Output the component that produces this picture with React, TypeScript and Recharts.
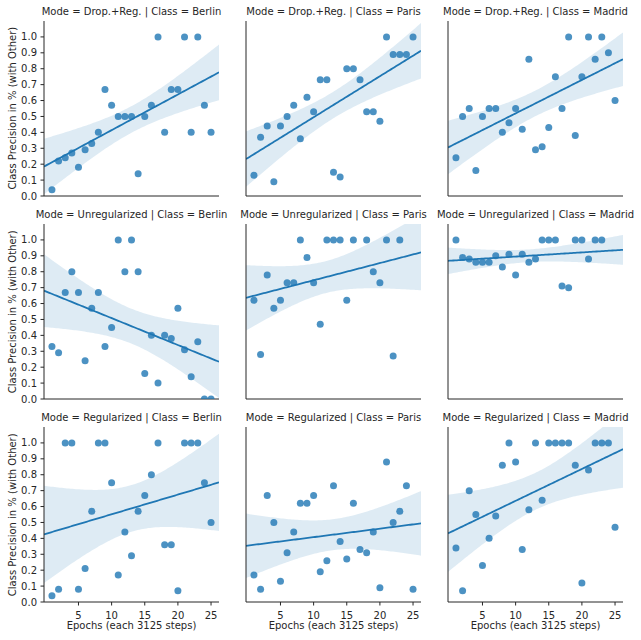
import React from 'react';
import { ComposedChart, Scatter, Line, Area, XAxis, YAxis } from 'recharts';

const EPOCHS = [1, 2, 3, 4, 5, 6, 7, 8, 9, 10, 11, 12, 13, 14, 15, 16, 17, 18, 19, 20, 21, 22, 23, 24, 25];
const MODES = ['Drop.+Reg.', 'Unregularized', 'Regularized'];
const CLASSES = ['Berlin', 'Paris', 'Madrid'];
const X_TICKS = [5, 10, 15, 20, 25];
const Y_TICKS = [0, 0.1, 0.2, 0.3, 0.4, 0.5, 0.6, 0.7, 0.8, 0.9, 1.0];

const dropRegBerlin = [0.04, 0.22, 0.24, 0.27, 0.18, 0.29, 0.33, 0.40, 0.67, 0.57, 0.50, 0.50, 0.50, 0.14, 0.50, 0.57, 1.0, 0.40, 0.67, 0.67, 1.0, 0.40, 1.0, 0.57, 0.40];
const dropRegParis = [0.13, 0.37, 0.44, 0.09, 0.44, 0.50, 0.57, 0.36, 0.62, 0.53, 0.73, 0.73, 0.15, 0.12, 0.80, 0.80, 0.73, 0.53, 0.53, 0.47, 1.0, 0.89, 0.89, 0.89, 1.0];
const dropRegMadrid = [0.24, 0.50, 0.55, 0.16, 0.50, 0.55, 0.55, 0.40, 0.46, 0.55, 0.42, 0.86, 0.29, 0.31, 0.43, 0.75, 0.55, 1.0, 0.38, 0.75, 1.0, 0.86, 1.0, 0.90, 0.60];
const unregBerlin = [0.33, 0.29, 0.67, 0.80, 0.67, 0.24, 0.57, 0.67, 0.33, 0.45, 1.0, 0.80, 1.0, 0.80, 0.16, 0.40, 0.10, 0.40, 0.38, 0.57, 0.31, 0.14, 0.36, 0.0, 0.0];
const unregParis = [0.62, 0.28, 0.78, 0.57, 0.62, 0.73, 0.73, 1.0, 0.89, 0.73, 0.47, 1.0, 1.0, 1.0, 0.62, 1.0, null, 1.0, 0.80, 0.73, 1.0, 0.27, 1.0, null, null];
const unregMadrid = [1.0, 0.89, 0.88, 0.86, 0.86, 0.86, 0.90, 0.83, 0.91, 0.78, 0.91, 0.86, 0.88, 1.0, 1.0, 1.0, 0.71, 0.70, 1.0, 1.0, 0.88, 1.0, 1.0, null, null];
const regBerlin = [0.04, 0.08, 1.0, 1.0, 0.08, 0.21, 0.57, 1.0, 1.0, 0.75, 0.17, 0.44, 0.29, 0.57, 0.67, 0.80, 1.0, 0.36, 0.36, 0.07, 1.0, 1.0, 1.0, 0.75, 0.50];
const regParis = [0.17, 0.08, 0.67, 0.50, 0.13, 0.31, 0.44, 0.62, 0.62, 0.67, 0.19, 0.26, 0.73, 0.38, 0.27, 0.62, 0.33, 0.31, 0.44, 0.09, 0.88, 0.50, 0.57, 0.73, 0.08];
const regMadrid = [0.34, 0.07, 0.70, 0.55, 0.23, 0.40, 0.54, 0.86, 1.0, 0.88, 0.33, 0.58, 1.0, 0.64, 1.0, 1.0, 1.0, 1.0, 0.86, 0.12, 0.83, 1.0, 1.0, 1.0, 0.47];

const SERIES: (number | null)[][][] = [
  [dropRegBerlin, dropRegParis, dropRegMadrid],
  [unregBerlin, unregParis, unregMadrid],
  [regBerlin, regParis, regMadrid],
];

const X_MIN = -0.2;
const X_MAX = 26.2;
const COL_LEFT = [44, 246, 448];
const ROW_TOP = [20.7, 224.3, 427.3];
const PW = 175;
const PH = 175;
const ML = 44;
const MT = 20;
const MR = 8;
const XH = 30;
const BLUE = '#1f77b4';
const INK = '#262626';
const FONT = 'DejaVu Sans';

function regression(pts: { x: number; y: number }[]) {
  const n = pts.length;
  const mx = pts.reduce((s, p) => s + p.x, 0) / n;
  const my = pts.reduce((s, p) => s + p.y, 0) / n;
  let sxx = 0;
  let sxy = 0;
  pts.forEach((p) => {
    sxx += (p.x - mx) * (p.x - mx);
    sxy += (p.x - mx) * (p.y - my);
  });
  const b = sxy / sxx;
  const a = my - b * mx;
  let sse = 0;
  pts.forEach((p) => {
    const r = p.y - (a + b * p.x);
    sse += r * r;
  });
  const df = n - 2;
  const s = Math.sqrt(sse / df);
  const z = 1.959964;
  const t = z + (z ** 3 + z) / (4 * df) + (5 * z ** 5 + 16 * z ** 3 + 3 * z) / (96 * df * df);
  const grid = [];
  for (let i = 0; i < 100; i++) {
    const x = X_MIN + ((X_MAX - X_MIN) * i) / 99;
    const yh = a + b * x;
    const se = s * Math.sqrt(1 / n + ((x - mx) * (x - mx)) / sxx);
    grid.push({ x, y: yh, band: [yh - t * se, yh + t * se] });
  }
  return grid;
}

const Dot = (props: any) => {
  const { cx, cy } = props;
  if (cx == null || cy == null) return null;
  return <circle cx={cx} cy={cy} r={3.5} fill={BLUE} fillOpacity={0.8} stroke="none" />;
};

function Panel({ row, col }: { row: number; col: number }) {
  const vals = SERIES[row][col];
  const pts = EPOCHS.map((x, i) => ({ x, y: vals[i] as number })).filter((p, i) => vals[i] !== null);
  const grid = regression(pts);
  const tickStyle = { fontSize: 10, fill: INK, fontFamily: FONT };
  return (
    <div style={{ position: 'absolute', left: COL_LEFT[col] - ML, top: ROW_TOP[row] - MT }}>
      <ComposedChart
        width={ML + PW + MR}
        height={MT + PH + XH}
        margin={{ top: MT, right: MR, bottom: 0, left: 0 }}
      >
        <XAxis
          type="number"
          dataKey="x"
          domain={[X_MIN, X_MAX]}
          ticks={X_TICKS}
          interval={0}
          allowDataOverflow
          height={XH}
          tickSize={3.5}
          tickMargin={6}
          tick={row === 2 ? tickStyle : false}
          tickLine={{ stroke: INK, strokeWidth: 1 }}
          axisLine={{ stroke: INK, strokeWidth: 1 }}
        />
        <YAxis
          type="number"
          domain={[0, 1.1]}
          ticks={Y_TICKS}
          interval={0}
          allowDataOverflow
          width={ML}
          tickSize={3.5}
          tickMargin={3.5}
          tickFormatter={(v: number) => v.toFixed(1)}
          tick={col === 0 ? tickStyle : false}
          tickLine={{ stroke: INK, strokeWidth: 1 }}
          axisLine={{ stroke: INK, strokeWidth: 1 }}
        />
        <Scatter data={pts} dataKey="y" shape={<Dot />} isAnimationActive={false} />
        <Area
          data={grid}
          dataKey="band"
          type="linear"
          stroke="none"
          fill={BLUE}
          fillOpacity={0.15}
          isAnimationActive={false}
          activeDot={false}
          dot={false}
        />
        <Line
          data={grid}
          dataKey="y"
          type="linear"
          stroke={BLUE}
          strokeWidth={1.8}
          dot={false}
          activeDot={false}
          isAnimationActive={false}
        />
      </ComposedChart>
    </div>
  );
}

export default function App() {
  const panels = [];
  for (let r = 0; r < 3; r++) {
    for (let c = 0; c < 3; c++) {
      panels.push(<Panel key={`${r}-${c}`} row={r} col={c} />);
    }
  }
  return (
    <div style={{ position: 'absolute', left: 0, top: 0, width: 641, height: 640, background: '#fff', overflow: 'hidden' }}>
      {panels}
      <svg
        width={641}
        height={640}
        style={{ position: 'absolute', left: 0, top: 0, pointerEvents: 'none' }}
        fontFamily={FONT}
        fontSize={10}
        fill={INK}
      >
        {MODES.map((m, r) =>
          CLASSES.map((cl, c) => (
            <text key={`t${r}${c}`} x={COL_LEFT[c] + PW / 2} y={ROW_TOP[r] - 6} textAnchor="middle">
              {`Mode = ${m} | Class = ${cl}`}
            </text>
          ))
        )}
        {ROW_TOP.map((t, r) => (
          <text key={`yl${r}`} transform={`translate(15.5, ${t + PH / 2}) rotate(-90)`} textAnchor="middle">
            Class Precision in % (with Other)
          </text>
        ))}
        {COL_LEFT.map((l, c) => (
          <text key={`xl${c}`} x={l + PW / 2} y={628.5} textAnchor="middle">
            Epochs (each 3125 steps)
          </text>
        ))}
      </svg>
    </div>
  );
}
